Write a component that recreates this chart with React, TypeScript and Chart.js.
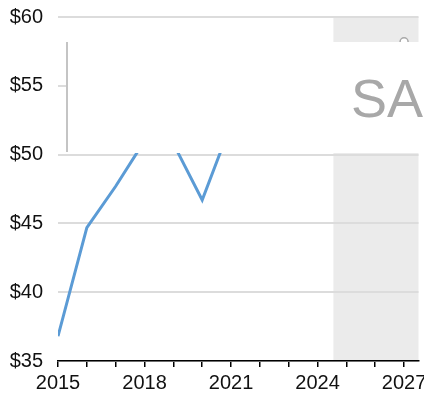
import React, { useEffect, useRef } from "react";
import { Chart, registerables } from "chart.js";

Chart.register(...registerables);

const years = [2015, 2016, 2017, 2018, 2019, 2020, 2021];
const prices = [36.8, 44.7, 47.7, 51.0, 50.8, 46.7, 52.2];
const forecastYears = [2027];
const forecastPrices = [58.2];
const yMin = 35;
const yMax = 60;
const yStep = 5;
const xMin = 2015;
const xMax = 2027.5;
const xLabelYears = [2015, 2018, 2021, 2024, 2027];
const shadeStart = 2024.55;
const watermark = "SAMPLE";

const shadePlugin = {
  id: "shade",
  beforeDraw(chart: any) {
    const { ctx, chartArea, scales } = chart;
    const x0 = scales.x.getPixelForValue(shadeStart);
    ctx.save();
    ctx.fillStyle = "#ebebeb";
    ctx.fillRect(x0, chartArea.top, chartArea.right - x0, chartArea.bottom - chartArea.top);
    ctx.restore();
  },
};

const overlayPlugin = {
  id: "overlay",
  afterDraw(chart: any) {
    const { ctx, width } = chart;
    const left = 66;
    const top = 42;
    const bottom = 153;
    ctx.save();
    ctx.fillStyle = "#ffffff";
    ctx.fillRect(left, top, width - left, bottom - top);
    ctx.fillStyle = "#c4c4c4";
    ctx.fillRect(left, top, 2, bottom - top - 1);
    ctx.fillStyle = "#a8a8a8";
    ctx.font = "54px 'Liberation Sans', Arial, sans-serif";
    ctx.textBaseline = "alphabetic";
    ctx.textAlign = "left";
    ctx.fillText(watermark, 351, 117);
    ctx.restore();
  },
};

export default function App() {
  const ref = useRef<HTMLCanvasElement | null>(null);
  useEffect(() => {
    if (!ref.current) return;
    const chart = new Chart(ref.current, {
      type: "line",
      data: {
        datasets: [
          {
            label: "Price",
            data: years.map((y, i) => ({ x: y, y: prices[i] })),
            borderColor: "#5b9bd5",
            borderWidth: 3,
            pointRadius: 0,
            tension: 0,
            fill: false,
          },
          {
            label: "Forecast",
            data: forecastYears.map((y, i) => ({ x: y, y: forecastPrices[i] })),
            borderColor: "#a8a8a8",
            backgroundColor: "#ffffff",
            borderWidth: 1.5,
            pointRadius: 4,
            showLine: false,
          },
        ],
      },
      options: {
        animation: false,
        responsive: true,
        maintainAspectRatio: false,
        layout: { padding: { top: 17, right: 5, left: 0, bottom: 0 } },
        plugins: {
          legend: { display: false },
          tooltip: { enabled: false },
        },
        scales: {
          x: {
            type: "linear",
            min: xMin,
            max: xMax,
            afterBuildTicks(scale: any) {
              const t: any[] = [];
              for (let v = Math.ceil(xMin); v <= Math.floor(xMax); v++) t.push({ value: v });
              scale.ticks = t;
            },
            afterFit(scale: any) {
              scale.paddingLeft = 0;
              scale.paddingRight = 0;
              scale.height = 36;
            },
            ticks: {
              stepSize: 1,
              autoSkip: false,
              maxRotation: 0,
              padding: 4,
              color: "#111111",
              font: { family: "'Liberation Sans', Arial, sans-serif", size: 20 },
              callback: (v: any) => (xLabelYears.includes(Number(v)) ? String(v) : ""),
            },
            grid: {
              drawOnChartArea: false,
              drawTicks: true,
              tickLength: 6,
              color: "#000000",
              lineWidth: 1.5,
            },
            border: { display: true, color: "#000000", width: 1.5 },
          },
          y: {
            min: yMin,
            max: yMax,
            afterFit(scale: any) {
              scale.width = 58;
              scale.paddingTop = 0;
              scale.paddingBottom = 0;
            },
            ticks: {
              stepSize: yStep,
              padding: 15,
              color: "#111111",
              font: { family: "'Liberation Sans', Arial, sans-serif", size: 20 },
              callback: (v: any) => "$" + v,
            },
            grid: { color: "#dcdcdc", lineWidth: 2, drawTicks: false },
            border: { display: false },
          },
        },
      },
      plugins: [shadePlugin, overlayPlugin],
    });
    return () => chart.destroy();
  }, []);
  return (
    <div style={{ position: "absolute", left: 0, top: 0, width: 424, height: 397 }}>
      <canvas ref={ref} />
    </div>
  );
}
